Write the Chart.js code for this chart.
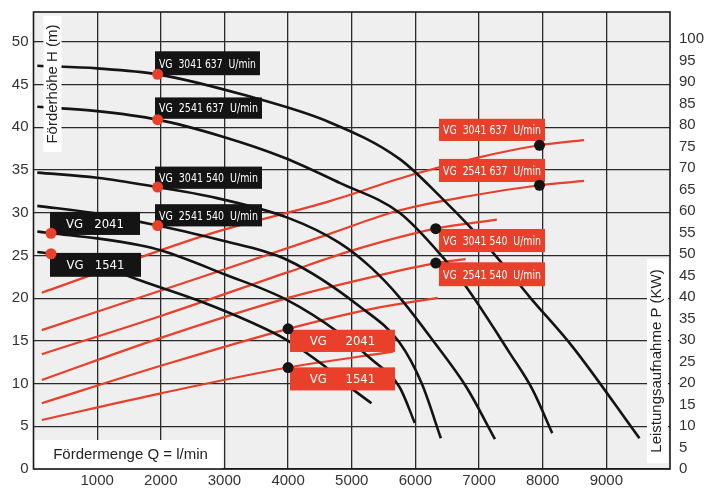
<!DOCTYPE html>
<html>
<head>
<meta charset="utf-8">
<script src="https://cdn.jsdelivr.net/npm/chart.js@4.4.1/dist/chart.umd.min.js"></script>
<style>
  html, body { margin: 0; padding: 0; background: #fff; }
</style>
</head>
<body>
<canvas id="pump-chart" width="708" height="489"></canvas>
<script>
// Förderhöhe H (m) over Fördermenge Q (l/min)
const hQ3041_637 = [60, 1000, 1950, 3300, 4650, 5750, 6430, 6850, 7325, 7800, 8470, 9520];
const hH3041_637 = [47.2, 46.9, 46.2, 43.8, 40.6, 36.3, 31.6, 28.4, 24.4, 20.1, 14.3, 3.6];
const hQ2541_637 = [60, 1000, 1950, 2975, 3920, 4810, 5750, 6430, 6800, 7480, 7840, 8150];
const hH2541_637 = [42.4, 41.9, 40.9, 38.9, 36.5, 33.5, 30.0, 24.8, 21.3, 13.6, 9.3, 4.2];
const hQ3041_540 = [60, 1000, 1950, 2770, 4000, 4800, 5300, 5750, 6270, 6800, 7250];
const hH3041_540 = [34.7, 34.1, 33.0, 31.9, 29.4, 26.5, 23.6, 20.1, 15.1, 9.6, 3.5];
const hQ2541_540 = [60, 1000, 1950, 2930, 3980, 5130, 5750, 6100, 6400];
const hH2541_540 = [30.8, 29.9, 28.5, 26.8, 24.5, 19.0, 14.8, 10.0, 3.6];
const hQ2041 = [60, 275, 1000, 1670, 2000, 3000, 3980, 4810, 5300, 5750, 5990];
const hH2041 = [27.8, 27.6, 27.0, 26.2, 25.6, 22.8, 19.8, 15.9, 12.9, 9.6, 5.4];
const hQ1541 = [60, 275, 1000, 1520, 2770, 3980, 4545, 4950, 5310];
const hH1541 = [25.4, 25.2, 24.1, 22.5, 19.2, 15.1, 12.2, 9.7, 7.7];

// Leistungsaufnahme P (kW) over Q
const pQ3041_637 = [130, 2770, 4655, 5960, 7000, 7950, 8650];
const pP3041_637 = [41.0, 54.7, 62.3, 68.5, 72.5, 75.3, 76.5];
const pQ2541_637 = [130, 2770, 4655, 5710, 6850, 7950, 8650];
const pP2541_637 = [32.3, 45.3, 54.7, 60.0, 63.5, 66.0, 67.0];
const pQ3041_540 = [130, 2000, 4000, 5000, 6320, 7280];
const pP3041_540 = [26.7, 35.6, 45.8, 50.8, 55.9, 58.0];
const pQ2541_540 = [130, 2000, 4000, 5300, 6320, 6790];
const pP2541_540 = [20.7, 30.5, 39.8, 44.6, 47.9, 48.8];
const pQ2041 = [130, 2000, 4000, 5300, 6350];
const pP2041 = [15.3, 24.0, 32.6, 37.2, 39.8];
const pQ1541 = [130, 2000, 4000, 5650];
const pP1541 = [11.4, 17.6, 23.6, 27.3];

// marker points
const redDotQ = [1950, 1950, 1950, 1950, 275, 275];
const redDotH = [46.2, 40.9, 33.0, 28.5, 27.6, 25.2];
const blackDotQ = [7950, 7950, 6320, 6320, 4000, 4000];
const blackDotP = [75.3, 66.0, 55.9, 47.9, 32.6, 23.6];

// label boxes (Q from/to, H top/bottom on the left axis)
const blackLabels = [
  { text: 'VG  3041 637  U/min', q0: 1909, q1: 3558, h0: 48.9, h1: 46.1 },
  { text: 'VG  2541 637  U/min', q0: 1909, q1: 3590, h0: 43.5, h1: 41.0 },
  { text: 'VG  3041 540  U/min', q0: 1909, q1: 3590, h0: 35.4, h1: 32.8 },
  { text: 'VG  2541 540  U/min', q0: 1909, q1: 3590, h0: 31.0, h1: 28.4 },
  { text: 'VG   2041', q0: 259, q1: 1673, h0: 30.1, h1: 27.4 },
  { text: 'VG   1541', q0: 259, q1: 1689, h0: 25.3, h1: 22.5 }
];
const redLabels = [
  { text: 'VG  3041 637  U/min', q0: 6371, q1: 8036, h0: 41.0, h1: 38.4 },
  { text: 'VG  2541 637  U/min', q0: 6371, q1: 8036, h0: 36.3, h1: 33.6 },
  { text: 'VG  3041 540  U/min', q0: 6371, q1: 8036, h0: 28.1, h1: 25.4 },
  { text: 'VG  2541 540  U/min', q0: 6371, q1: 8036, h0: 24.2, h1: 21.4 },
  { text: 'VG     2041', q0: 4030, q1: 5680, h0: 16.3, h1: 13.7 },
  { text: 'VG     1541', q0: 4030, q1: 5680, h0: 11.9, h1: 9.2 }
];

const RED = '#e8402a';
const INK = '#141414';
const FONT = '"Liberation Sans", Arial, sans-serif';
const NARROW = '"Liberation Sans Narrow", "DejaVu Sans Condensed", "Liberation Sans", sans-serif';

function pts(qs, vs) {
  return qs.map((q, i) => ({ x: q, y: vs[i] }));
}

function headCurve(qs, hs) {
  return { data: pts(qs, hs), yAxisID: 'y', borderColor: INK, borderWidth: 2.6,
           pointRadius: 0, showLine: true, cubicInterpolationMode: 'monotone', order: 1 };
}
function powerCurve(qs, ps) {
  return { data: pts(qs, ps), yAxisID: 'y2', borderColor: RED, borderWidth: 2.2,
           pointRadius: 0, showLine: true, cubicInterpolationMode: 'monotone', order: 2 };
}

function fitText(ctx, text, cx, cy, maxW) {
  const w = ctx.measureText(text).width;
  ctx.save();
  ctx.translate(cx, cy);
  if (w > maxW) ctx.scale(maxW / w, 1);
  ctx.fillText(text, 0, 0);
  ctx.restore();
}

function drawLabels(chart) {
  const ctx = chart.ctx, sx = chart.scales.x, sy = chart.scales.y;
  ctx.save();
  ctx.font = '13px ' + NARROW;
  ctx.textAlign = 'center';
  ctx.textBaseline = 'middle';
  const draw = (list, fill) => {
    list.forEach(l => {
      const x0 = sx.getPixelForValue(l.q0), x1 = sx.getPixelForValue(l.q1);
      const y0 = sy.getPixelForValue(l.h0), y1 = sy.getPixelForValue(l.h1);
      ctx.fillStyle = fill;
      ctx.fillRect(x0, y0, x1 - x0, y1 - y0);
      ctx.fillStyle = '#fff';
      fitText(ctx, l.text, (x0 + x1) / 2, (y0 + y1) / 2 + 1, x1 - x0 - 8);
    });
  };
  draw(blackLabels, INK);
  draw(redLabels, RED);
  ctx.restore();
}

function drawTitles(chart) {
  const ctx = chart.ctx, a = chart.chartArea;
  ctx.save();
  ctx.font = '15px ' + FONT;
  ctx.textBaseline = 'middle';
  ctx.textAlign = 'center';

  // left axis title
  ctx.fillStyle = '#fff';
  ctx.fillRect(a.left + 10, a.top + 4, 18, 136);
  ctx.save();
  ctx.translate(a.left + 19, a.top + 72);
  ctx.rotate(-Math.PI / 2);
  ctx.fillStyle = '#222';
  ctx.fillText('Förderhöhe H (m)', 0, 0);
  ctx.restore();

  // right axis title
  ctx.fillStyle = '#fff';
  ctx.fillRect(a.right - 23, a.bottom - 210, 21, 204);
  ctx.save();
  ctx.translate(a.right - 13, a.bottom - 108);
  ctx.rotate(-Math.PI / 2);
  ctx.fillStyle = '#222';
  ctx.fillText('Leistungsaufnahme P (KW)', 0, 0);
  ctx.restore();

  // x axis title
  ctx.fillStyle = '#fff';
  ctx.fillRect(a.left + 1, a.bottom - 29, 188, 29);
  ctx.fillStyle = '#222';
  ctx.fillText('Fördermenge Q = l/min', a.left + 97, a.bottom - 14);
  ctx.restore();
}

const decor = {
  id: 'decor',
  beforeDraw(chart) {
    const { ctx, chartArea: a } = chart;
    ctx.save();
    ctx.fillStyle = '#efefef';
    ctx.fillRect(a.left, a.top, a.right - a.left, a.bottom - a.top);
    ctx.restore();
    chart.$labelsDone = false;
  },
  beforeDatasetDraw(chart, args) {
    if (chart.$labelsDone || !chart.data.datasets[args.index].isDot) return;
    drawLabels(chart);
    drawTitles(chart);
    chart.$labelsDone = true;
  },
  afterDraw(chart) {
    const { ctx, chartArea: a } = chart;
    ctx.save();
    ctx.strokeStyle = '#1a1a1a';
    ctx.lineWidth = 1.6;
    ctx.strokeRect(a.left, a.top, a.right - a.left, a.bottom - a.top);
    ctx.restore();
  }
};

// no automatic label overhang padding, so the plot box sits where it should
const noPad = s => { s.paddingTop = 0; s.paddingBottom = 0; s.paddingLeft = 0; s.paddingRight = 0; };

new Chart(document.getElementById('pump-chart'), {
  type: 'scatter',
  data: {
    datasets: [
      { data: pts(redDotQ, redDotH), yAxisID: 'y', isDot: true, order: 0,
        pointRadius: 5.5, pointBackgroundColor: RED, pointBorderWidth: 0, showLine: false },
      { data: pts(blackDotQ, blackDotP), yAxisID: 'y2', isDot: true, order: 0,
        pointRadius: 5.5, pointBackgroundColor: INK, pointBorderWidth: 0, showLine: false },
      headCurve(hQ3041_637, hH3041_637),
      headCurve(hQ2541_637, hH2541_637),
      headCurve(hQ3041_540, hH3041_540),
      headCurve(hQ2541_540, hH2541_540),
      headCurve(hQ2041, hH2041),
      headCurve(hQ1541, hH1541),
      powerCurve(pQ3041_637, pP3041_637),
      powerCurve(pQ2541_637, pP2541_637),
      powerCurve(pQ3041_540, pP3041_540),
      powerCurve(pQ2541_540, pP2541_540),
      powerCurve(pQ2041, pP2041),
      powerCurve(pQ1541, pP1541)
    ]
  },
  options: {
    responsive: false,
    animation: false,
    layout: { padding: { top: 12, left: 0, right: 0, bottom: 0 } },
    plugins: { legend: { display: false }, tooltip: { enabled: false } },
    scales: {
      x: {
        type: 'linear', position: 'bottom', min: 0, max: 10000,
        afterFit: s => { s.height = 20; noPad(s); },
        afterBuildTicks: s => { s.ticks = s.ticks.filter(t => t.value >= 1000 && t.value <= 9000); },
        ticks: { stepSize: 1000, padding: 3, color: '#333', font: { family: FONT, size: 15 },
                 maxRotation: 0, callback: v => String(v) },
        grid: { color: '#2a2a2a', lineWidth: 1.3, drawTicks: false },
        border: { display: false }
      },
      y: {
        position: 'left', min: 0, max: 53.5,
        afterFit: s => { s.width = 33.5; noPad(s); },
        afterBuildTicks: s => { s.ticks = s.ticks.filter(t => t.value <= 50); },
        ticks: { stepSize: 5, padding: 5, color: '#333', font: { family: FONT, size: 15 } },
        grid: { color: '#2a2a2a', lineWidth: 1.3, drawTicks: false },
        border: { display: false }
      },
      y2: {
        position: 'right', min: 0, max: 106.3,
        afterFit: s => { s.width = 38; noPad(s); },
        afterBuildTicks: s => { s.ticks = s.ticks.filter(t => t.value <= 100); },
        ticks: { stepSize: 5, padding: 9, color: '#333', font: { family: FONT, size: 15 } },
        grid: { display: false, drawTicks: false },
        border: { display: false }
      }
    }
  },
  plugins: [decor]
});
</script>
</body>
</html>
